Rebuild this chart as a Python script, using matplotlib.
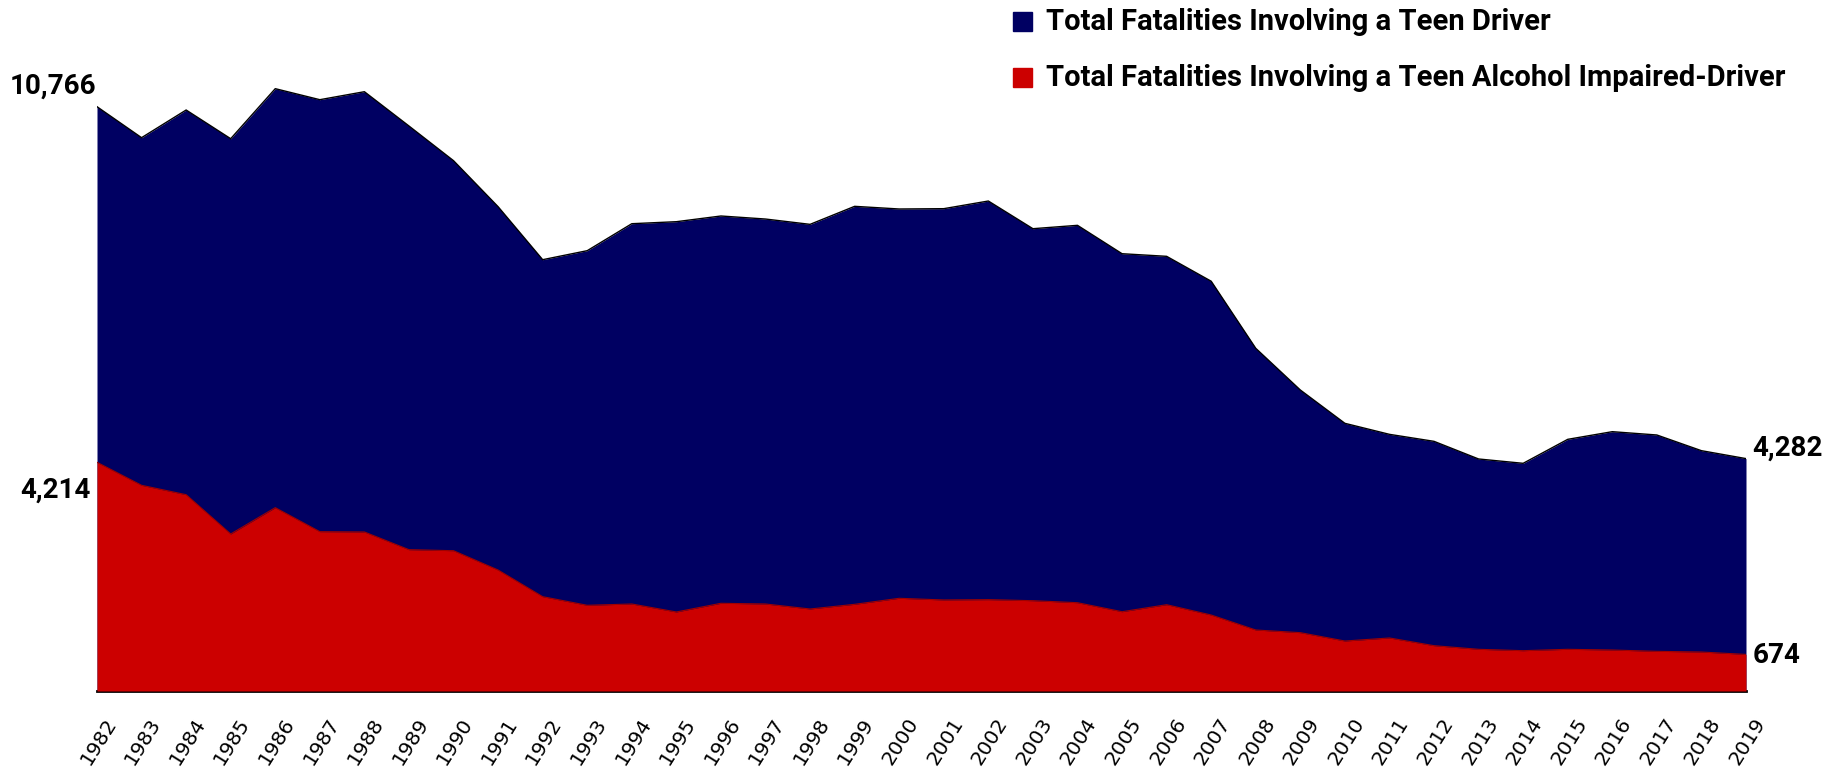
import matplotlib
matplotlib.use("Agg")
import matplotlib.pyplot as plt
import matplotlib.transforms as mtransforms
import numpy as np

years = list(range(1982, 2020))
teen_driver = [10766, 10195, 10705, 10176, 11098, 10895, 11042, 10410, 9771, 8923,
               7947, 8113, 8610, 8647, 8752, 8696, 8598, 8930, 8881, 8887,
               9028, 8518, 8580, 8057, 8009, 7550, 6314, 5546, 4932, 4729,
               4600, 4275, 4195, 4637, 4778, 4717, 4428, 4282]
teen_alcohol = [4214, 3790, 3617, 2893, 3378, 2936, 2930, 2604, 2585, 2229,
                1738, 1579, 1603, 1456, 1616, 1603, 1511, 1597, 1708, 1677,
                1683, 1664, 1627, 1461, 1590, 1400, 1124, 1075, 921, 977,
                835, 768, 743, 768, 755, 731, 718, 674]
series_names = ["Total Fatalities Involving a Teen Driver",
                "Total Fatalities Involving a Teen Alcohol Impaired-Driver"]
blue = "#000062"
red = "#CC0000"

W, H = 1833, 768
fig = plt.figure(figsize=(W / 100, H / 100), dpi=100)
left_px, right_px, bottom_px, top_px = 97, 1746, 691, 60
ax = fig.add_axes([left_px / W, (H - bottom_px) / H,
                   (right_px - left_px) / W, (bottom_px - top_px) / H])
ymax = (bottom_px - top_px) / 0.054274
ax.set_xlim(years[0], years[-1])
ax.set_ylim(0, ymax)

ax.fill_between(years, 0, teen_driver, color=blue, lw=0, zorder=1)
ax.plot(years, teen_driver, color="black", lw=1.0, zorder=2)
ax.fill_between(years, 0, teen_alcohol, color=red, lw=0, zorder=3)
ax.plot(years, teen_alcohol, color="#A00000", lw=0.8, zorder=4)

for s in ["top", "right", "left"]:
    ax.spines[s].set_visible(False)
ax.spines["bottom"].set_linewidth(2)
ax.spines["bottom"].set_color("black")
ax.set_yticks([])
ax.set_xticks(years)
ax.tick_params(axis="x", length=0, pad=17)
offset = mtransforms.ScaledTranslation(7 / 100, 0, fig.dpi_scale_trans)
labels = ax.set_xticklabels([str(y) for y in years], rotation=58, ha="right",
                            rotation_mode="anchor", fontsize=14.5,
                            family="DejaVu Sans")
for lab in labels:
    lab.set_transform(lab.get_transform() + offset)

fnt = ["Roboto", "DejaVu Sans"]
ax.annotate(f"{teen_driver[0]:,}", xy=(years[0], teen_driver[0]), xycoords="data",
            xytext=(-1, 21), textcoords="offset pixels", ha="right", va="center",
            fontsize=20, fontweight="bold", family=fnt)
ax.annotate(f"{teen_alcohol[0]:,}", xy=(years[0], teen_alcohol[0]), xycoords="data",
            xytext=(-6, -28), textcoords="offset pixels", ha="right", va="center",
            fontsize=20, fontweight="bold", family=fnt)
ax.annotate(f"{teen_driver[-1]:,}", xy=(years[-1], teen_driver[-1]), xycoords="data",
            xytext=(6, 10), textcoords="offset pixels", ha="left", va="center",
            fontsize=20, fontweight="bold", family=fnt)
ax.annotate(f"{teen_alcohol[-1]:,}", xy=(years[-1], teen_alcohol[-1]), xycoords="data",
            xytext=(7, -1), textcoords="offset pixels", ha="left", va="center",
            fontsize=20, fontweight="bold", family=fnt)

# legend
for i, (name, col) in enumerate(zip(series_names, [blue, red])):
    yc = 22 + i * 56
    fig.patches.append(plt.Rectangle((1013 / W, 1 - (yc + 9) / H), 19 / W, 19 / H,
                                     transform=fig.transFigure, color=col))
    fig.text(1046 / W, 1 - yc / H, name, ha="left", va="center", fontsize=21,
             fontweight="bold", family=fnt)

fig.savefig("out.png", dpi=100)
